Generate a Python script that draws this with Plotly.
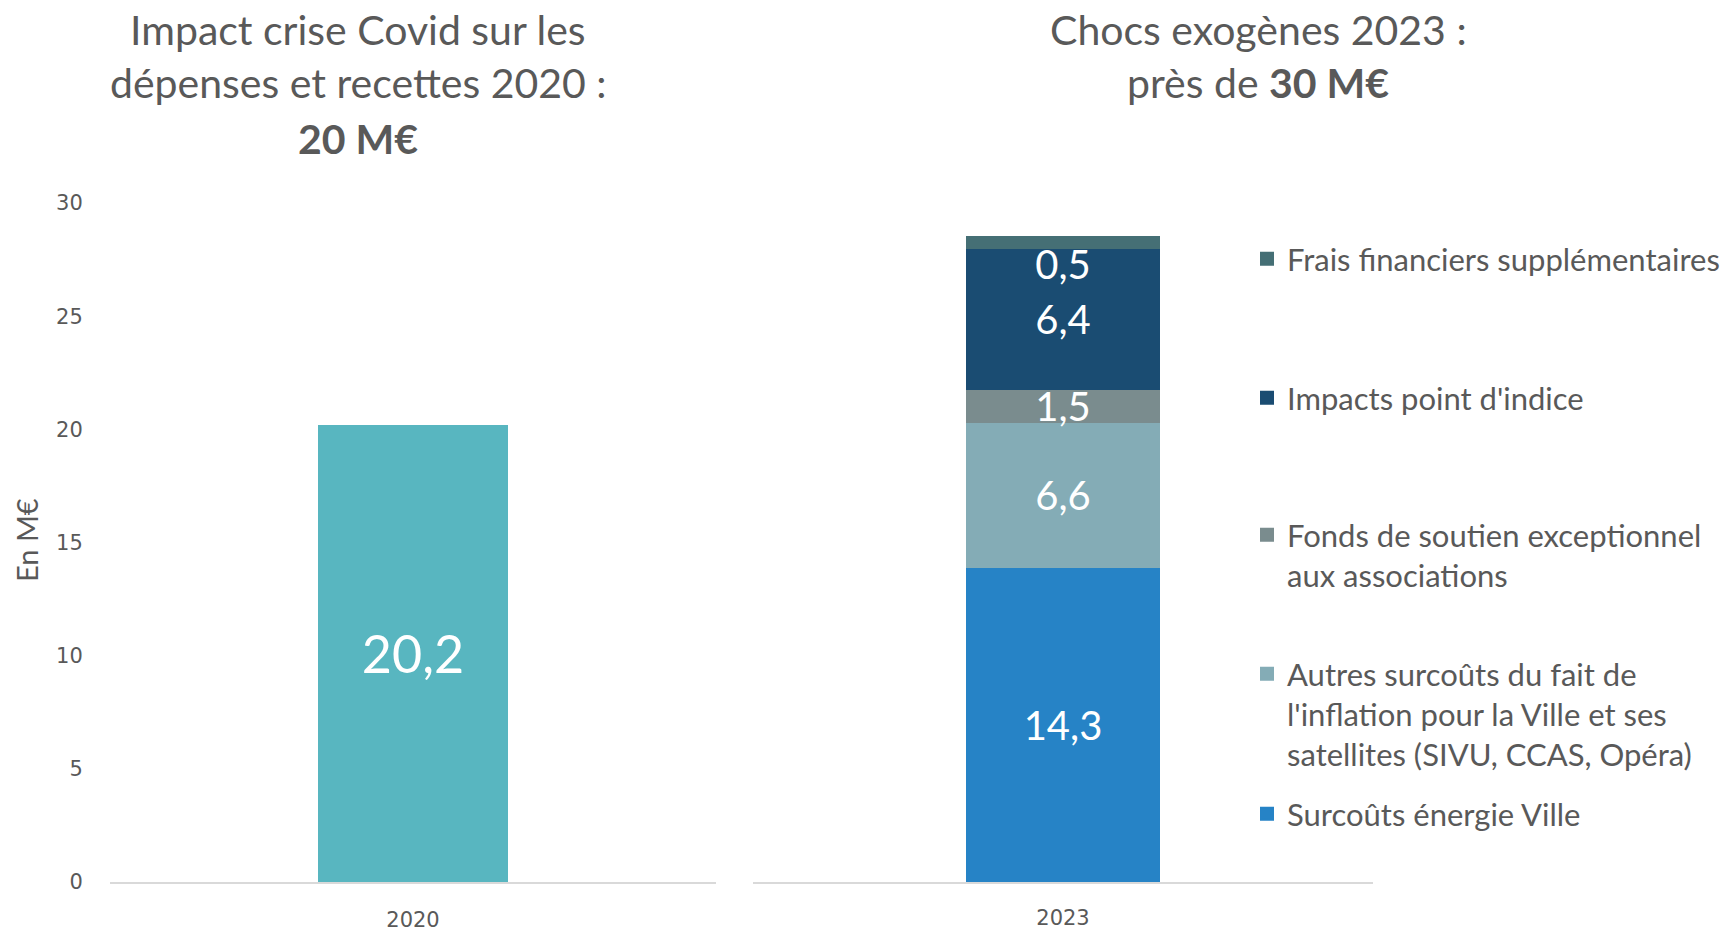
import plotly.graph_objects as go

# ---------------- data ----------------
year_left = ["2020"]
covid_values = [20.2]

year_right = ["2023"]
categories_2023 = [
    "Surcoûts énergie Ville",
    "Autres surcoûts du fait de<br>l'inflation pour la Ville et ses<br>satellites (SIVU, CCAS, Opéra)",
    "Fonds de soutien exceptionnel<br>aux associations",
    "Impacts point d'indice",
    "Frais financiers supplémentaires",
]
values_2023 = [14.3, 6.6, 1.5, 6.4, 0.5]

y_tick_values = [0, 5, 10, 15, 20, 25, 30]

left_title_lines = ["Impact crise Covid sur les", "dépenses et recettes 2020 :", "<b>20 M€</b>"]
right_title_lines = ["Chocs exogènes 2023 :", "près de <b>30 M€</b>"]
y_title = "En M€"

# ---------------- styles ----------------
W, H = 1727, 932
covid_color = "#58B6C0"
colors_2023 = ["#2683C6", "#84ACB6", "#7A8C8E", "#1A4C72", "#456F75"]
label_anchor_2023 = ["middle", "middle", "middle", "middle", "end"]
text_grey = "#595959"
FONT = "Lato, Carlito, 'Open Sans', sans-serif"
TICKFONT = "DejaVu Sans, Verdana, sans-serif"

def px_x(x):
    return x / W

def px_y(y):
    return 1 - y / H

# legend top (pixels from top) for each category, bottom -> top
legend_tops = [809, 669, 530, 393, 254]

fig = go.Figure()

fig.add_trace(go.Bar(
    x=year_left, y=covid_values, width=0.313,
    marker=dict(color=covid_color, line=dict(width=0)),
    texttemplate="%{y:.1f}", textposition="inside", insidetextanchor="middle",
    constraintext="none", textangle=0,
    textfont=dict(family=FONT, size=52, color="white"),
    showlegend=False, xaxis="x", yaxis="y",
))

legend_names = ["legend", "legend2", "legend3", "legend4", "legend5"]
for i, (cat, val, col) in enumerate(zip(categories_2023, values_2023, colors_2023)):
    fig.add_trace(go.Bar(
        x=year_right, y=[val], name=cat, width=0.309,
        marker=dict(color=col, line=dict(width=2, color=col)),
        texttemplate="%{y:.1f}", textposition="inside",
        insidetextanchor=label_anchor_2023[i],
        constraintext="none", textangle=0, cliponaxis=False,
        textfont=dict(family=FONT, size=40, color="white"),
        xaxis="x2", yaxis="y2", legend=legend_names[i],
    ))

legend_common = dict(
    xanchor="left", yanchor="top", x=px_x(1247),
    bgcolor="rgba(0,0,0,0)", borderwidth=0, valign="top",
    font=dict(family=FONT, size=31, color=text_grey),
)
layout_legends = {}
for name, top in zip(legend_names, legend_tops):
    layout_legends[name] = dict(legend_common, y=px_y(top - 22))

y_domain = [px_y(882), px_y(203)]

fig.update_layout(
    width=W, height=H,
    margin=dict(l=0, r=0, t=0, b=0, autoexpand=False),
    paper_bgcolor="white", plot_bgcolor="white",
    barmode="stack",
    separators=", ",
    font=dict(family=FONT, color=text_grey),
    xaxis=dict(
        domain=[px_x(110), px_x(716)], anchor="y", automargin=False,
        showline=True, linecolor="#D9D9D9", linewidth=1.5,
        showgrid=False, zeroline=False,
        ticks="outside", ticklen=18, tickcolor="rgba(0,0,0,0)",
        tickfont=dict(family=TICKFONT, size=21, color=text_grey),
    ),
    yaxis=dict(
        domain=y_domain, anchor="x", range=[0, 30], automargin=False,
        tickvals=y_tick_values, showgrid=False, zeroline=False,
        showline=False,
        ticks="outside", ticklen=22, tickcolor="rgba(0,0,0,0)",
        tickfont=dict(family=TICKFONT, size=21, color=text_grey),
    ),
    xaxis2=dict(
        domain=[px_x(753), px_x(1373)], anchor="y2", automargin=False,
        showline=True, linecolor="#D9D9D9", linewidth=1.5,
        showgrid=False, zeroline=False,
        ticks="outside", ticklen=16, tickcolor="rgba(0,0,0,0)",
        tickfont=dict(family=TICKFONT, size=21, color=text_grey),
    ),
    yaxis2=dict(
        domain=y_domain, anchor="x2", range=[0, 30.86], automargin=False,
        visible=False,
    ),
    **layout_legends,
)

annotations = []
for line, yc in zip(left_title_lines, [29, 83, 138]):
    annotations.append(dict(
        text=line, x=px_x(358), y=px_y(yc), xref="paper", yref="paper",
        xanchor="center", yanchor="middle", showarrow=False,
        font=dict(family=FONT, size=41, color=text_grey),
    ))
for line, yc in zip(right_title_lines, [29, 83]):
    annotations.append(dict(
        text=line, x=px_x(1258), y=px_y(yc), xref="paper", yref="paper",
        xanchor="center", yanchor="middle", showarrow=False,
        font=dict(family=FONT, size=41, color=text_grey),
    ))
annotations.append(dict(
    text=y_title, x=px_x(26), y=px_y(540), xref="paper", yref="paper",
    xanchor="center", yanchor="middle", showarrow=False, textangle=-90,
    font=dict(family=FONT, size=29, color=text_grey),
))
fig.update_layout(annotations=annotations)

fig.write_html(
    "out.html",
    config={"displayModeBar": False},
    post_script="document.body.style.margin='0';document.body.style.overflow='hidden';",
)
